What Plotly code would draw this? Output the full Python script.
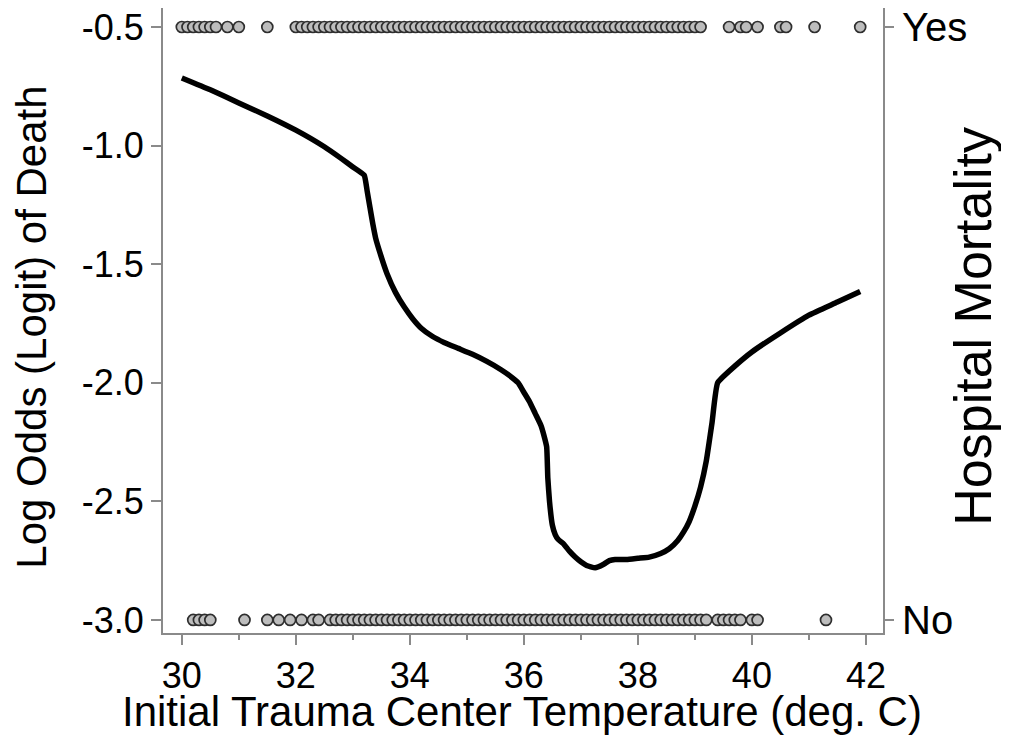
import plotly.graph_objects as go

# ---- data ----
curve_x = [30.0, 30.5, 31.0, 31.5, 32.0, 32.5, 32.8, 33.0, 33.2, 33.25, 33.3, 33.35, 33.4, 33.5,
           33.6, 33.75, 33.9, 34.05, 34.2, 34.4, 34.6, 34.85, 35.1, 35.35, 35.6, 35.75, 35.9,
           36.0, 36.1, 36.2, 36.3, 36.35, 36.4, 36.42, 36.45, 36.5, 36.55, 36.6, 36.7, 36.8,
           36.9, 37.0, 37.1, 37.25, 37.4, 37.5, 37.6, 37.8, 38.0, 38.2, 38.4, 38.55, 38.7, 38.8,
           38.9, 39.0, 39.1, 39.2, 39.3, 39.4, 39.7, 40.0, 40.5, 41.0, 41.5, 41.9]
curve_y = [-0.715, -0.765, -0.82, -0.875, -0.935, -1.005, -1.055, -1.09, -1.125, -1.19, -1.26,
           -1.33, -1.39, -1.47, -1.54, -1.62, -1.68, -1.73, -1.77, -1.805, -1.83, -1.855, -1.88,
           -1.91, -1.945, -1.97, -2.0, -2.04, -2.08, -2.13, -2.18, -2.22, -2.27, -2.4, -2.5,
           -2.6, -2.64, -2.66, -2.68, -2.71, -2.735, -2.755, -2.77, -2.78, -2.765, -2.75, -2.745,
           -2.745, -2.74, -2.735, -2.72, -2.7, -2.665, -2.63, -2.585, -2.52, -2.44, -2.33,
           -2.17, -2.0, -1.93, -1.87, -1.79, -1.715, -1.66, -1.615]

died_temps = [30.0, 30.1, 30.2, 30.3, 30.4, 30.5, 30.6, 30.8, 31.0, 31.5,
              32.0, 32.1, 32.2, 32.3, 32.4, 32.5, 32.6, 32.7, 32.8, 32.9,
              33.0, 33.1, 33.2, 33.3, 33.4, 33.5, 33.6, 33.7, 33.8, 33.9,
              34.0, 34.1, 34.2, 34.3, 34.4, 34.5, 34.6, 34.7, 34.8, 34.9,
              35.0, 35.1, 35.2, 35.3, 35.4, 35.5, 35.6, 35.7, 35.8, 35.9,
              36.0, 36.1, 36.2, 36.3, 36.4, 36.5, 36.6, 36.7, 36.8, 36.9,
              37.0, 37.1, 37.2, 37.3, 37.4, 37.5, 37.6, 37.7, 37.8, 37.9,
              38.0, 38.1, 38.2, 38.3, 38.4, 38.5, 38.6, 38.7, 38.8, 38.9,
              39.0, 39.1, 39.6, 39.8, 39.9, 40.1, 40.5, 40.6, 41.1, 41.9]
survived_temps = [30.2, 30.3, 30.4, 30.5, 31.1, 31.5, 31.7, 31.9, 32.1, 32.3, 32.4, 32.6, 32.7,
                  32.8, 32.9, 33.0, 33.1, 33.2, 33.3, 33.4, 33.5, 33.6, 33.7, 33.8, 33.9,
                  34.0, 34.1, 34.2, 34.3, 34.4, 34.5, 34.6, 34.7, 34.8, 34.9,
                  35.0, 35.1, 35.2, 35.3, 35.4, 35.5, 35.6, 35.7, 35.8, 35.9,
                  36.0, 36.1, 36.2, 36.3, 36.4, 36.5, 36.6, 36.7, 36.8, 36.9,
                  37.0, 37.1, 37.2, 37.3, 37.4, 37.5, 37.6, 37.7, 37.8, 37.9,
                  38.0, 38.1, 38.2, 38.3, 38.4, 38.5, 38.6, 38.7, 38.8, 38.9,
                  39.0, 39.1, 39.2, 39.4, 39.5, 39.6, 39.7, 39.8, 40.0, 40.1, 41.3]
yes_level = -0.5
no_level = -3.0

x_ticks = [30, 32, 34, 36, 38, 40, 42]
y_ticks = [-3.0, -2.5, -2.0, -1.5, -1.0, -0.5]
y_ticktext = ["-3.0", "-2.5", "-2.0", "-1.5", "-1.0", "-0.5"]
right_ticks = [-0.5, -3.0]
right_ticktext = ["Yes", "No"]

FONT = "Liberation Sans, Arial, Helvetica, sans-serif"
AX = "#8a8a8a"
YR = [-3.055, -0.42]

fig = go.Figure()
marker = dict(symbol="circle", size=11, color="#bdbdbd", line=dict(color="#2e2e2e", width=1.7))
fig.add_trace(go.Scatter(x=died_temps, y=[yes_level] * len(died_temps), mode="markers",
                         marker=marker, showlegend=False))
fig.add_trace(go.Scatter(x=survived_temps, y=[no_level] * len(survived_temps), mode="markers",
                         marker=marker, showlegend=False))
fig.add_trace(go.Scatter(x=curve_x, y=curve_y, mode="lines",
                         line=dict(color="black", width=5.5, shape="spline", smoothing=0.4),
                         showlegend=False))
# invisible trace to make yaxis2 render
fig.add_trace(go.Scatter(x=[30], y=[-1], yaxis="y2", mode="markers",
                         marker=dict(opacity=0), showlegend=False, hoverinfo="skip"))

fig.update_layout(
    width=1009, height=744,
    margin=dict(l=155, r=134, t=0, b=119),
    paper_bgcolor="white", plot_bgcolor="white",
    font=dict(family=FONT, color="black"),
    xaxis=dict(range=[29.67, 42.3], tickvals=x_ticks, ticks="outside", ticklen=10, tickwidth=2,
               tickcolor=AX, showline=True, linecolor=AX, linewidth=2, showgrid=False,
               zeroline=False, automargin=False, tickfont=dict(size=36, family=FONT),
               ticklabeloverflow="allow",
               minor=dict(dtick=1, tick0=30, ticks="outside", ticklen=5, tickwidth=2, tickcolor=AX)),
    yaxis=dict(range=YR, tickvals=y_ticks, ticktext=y_ticktext, ticks="outside", ticklen=10,
               tickwidth=2, tickcolor=AX, showline=True, linecolor=AX, linewidth=2,
               showgrid=False, zeroline=False, automargin=False, ticklabeloverflow="allow",
               tickfont=dict(size=36, family=FONT)),
    yaxis2=dict(range=YR, overlaying="y", side="right", tickvals=right_ticks,
                ticktext=right_ticktext, ticks="outside", ticklen=9, tickwidth=2, tickcolor=AX,
                showline=True, linecolor=AX, linewidth=2, showgrid=False, zeroline=False,
                automargin=False, ticklabeloverflow="allow",
                tickfont=dict(size=40, family=FONT)),
    annotations=[
        dict(text="Initial Trauma Center Temperature (deg. C)", xref="paper", yref="paper",
             x=0.499, y=-0.125, xanchor="center", yanchor="middle", showarrow=False,
             font=dict(size=42, family=FONT, color="black")),
        dict(text="Log Odds (Logit) of Death", xref="paper", yref="paper",
             x=-0.182, y=0.49, xanchor="center", yanchor="middle", textangle=-90,
             showarrow=False, font=dict(size=42, family=FONT, color="black")),
        dict(text="Hospital Mortality", xref="paper", yref="paper",
             x=1.125, y=0.49, xanchor="center", yanchor="middle", textangle=-90,
             showarrow=False, font=dict(size=52, family=FONT, color="black")),
    ],
)

fig.write_html("out.html")
